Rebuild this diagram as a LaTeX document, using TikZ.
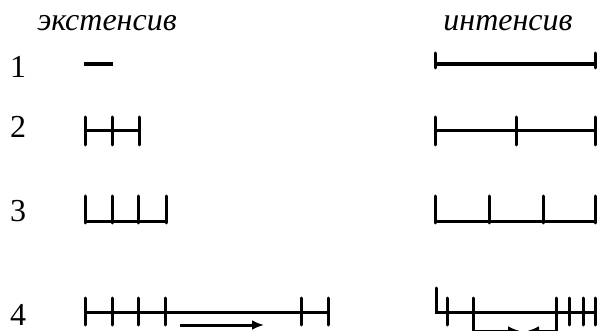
\documentclass[tikz,border=0pt]{standalone}
\usepackage{fontspec}
\setmainfont{Liberation Serif}
\usetikzlibrary{arrows.meta}
\tikzset{
  seg/.style={line width=3pt},
  boldseg/.style={line width=4pt},
  tick/.style={line width=3pt, line cap=round},
  head/.style={font={\fontsize{32pt}{34pt}\selectfont\itshape}, anchor=base, inner sep=0pt},
  num/.style={font={\fontsize{32pt}{34pt}\selectfont}, anchor=base, inner sep=0pt}
}

\begin{document}
\begin{tikzpicture}[x=1pt, y=-1pt, >={Latex[length=12pt, width=10pt]}]
    \useasboundingbox (0,0) rectangle (597,331);
    \node [head] (ext) at (107,31) {экстенсив};
    \node [head] (int) at (508,31) {интенсив};
    \foreach \n/\y in {1/78, 2/138, 3/222, 4/325}
      \node [num] (n\n) at (18,\y) {\n};
    % row 1
    \draw [boldseg] (84,64) -- (113,64);
    \draw [boldseg] (435,64) -- (595,64);
    \foreach \x in {435, 595} \draw [tick] (\x,53) -- (\x,68);
    % row 2
    \draw [seg] (85,131) -- (139,131);
    \foreach \x in {85, 112, 139} \draw [tick] (\x,117) -- (\x,145);
    \draw [seg] (435,131) -- (595,131);
    \foreach \x in {435, 516, 595} \draw [tick] (\x,117) -- (\x,145);
    % row 3
    \draw [seg] (85,222) -- (166,222);
    \foreach \x in {85, 112, 138, 166} \draw [tick] (\x,196) -- (\x,223);
    \draw [seg] (435,222) -- (595,222);
    \foreach \x in {435, 489, 543, 595} \draw [tick] (\x,196) -- (\x,223);
    % row 4
    \draw [seg] (85,312) -- (328,312);
    \foreach \x in {85, 112, 138, 165, 301, 328} \draw [tick] (\x,298) -- (\x,325);
    \draw [seg, ->] (180,325) -- (264,325);
    \draw [tick] (436,288) -- (436,312) -- (595,312);
    \foreach \x in {447, 569, 583, 595} \draw [tick] (\x,298) -- (\x,325);
    \draw [tick, ->] (473,298) -- (473,331) -- (520,331);
    \draw [tick, ->] (556,298) -- (556,331) -- (527,331);
\end{tikzpicture}
\end{document}
